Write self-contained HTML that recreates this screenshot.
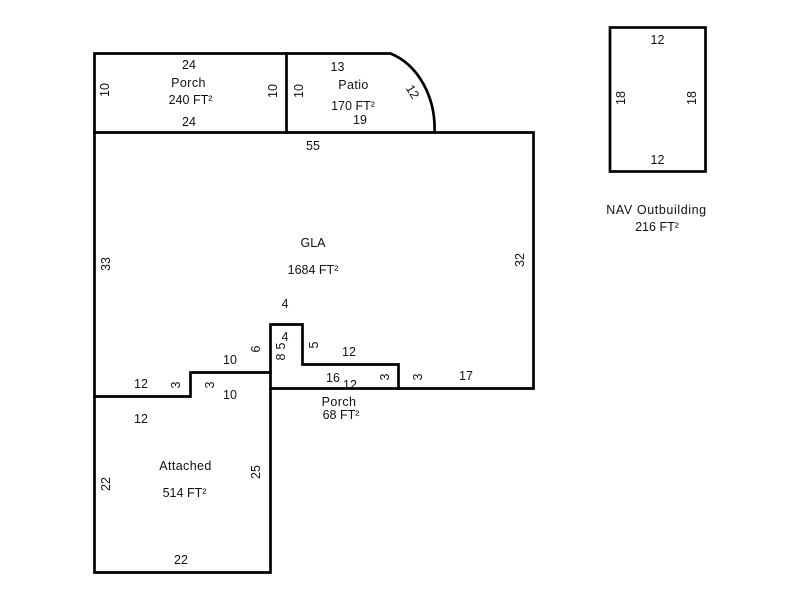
<!DOCTYPE html>
<html><head><meta charset="utf-8"><style>
html,body{margin:0;padding:0;background:#fff}
svg{display:block}
text{font-family:"Liberation Sans",Arial,sans-serif;font-size:12.5px;fill:#111;text-anchor:middle}
.w{letter-spacing:.4px}
.n{letter-spacing:.6px}
</style></head><body>
<svg width="800" height="600" viewBox="0 0 800 600" xmlns="http://www.w3.org/2000/svg">
<text x="350" y="389">12</text>
<rect x="300" y="389" width="100" height="8" fill="#fff"/>
<g fill="none" stroke="#000" stroke-width="2.7" stroke-linecap="square" stroke-linejoin="miter">
<path d="M94.5 132.5V53.5H286.5V132.5"/>
<path d="M286.5 53.5H390.5A64 79 0 0 1 434.5 132.5"/>
<path d="M94.5 132.5H533.5V388.5H270.5"/>
<path d="M94.5 132.5V572.5H270.5V324.5H302.5V364.5H398.5V388.5"/>
<path d="M94.5 396.5H190.5V372.5H270.5"/>
<rect x="610" y="27.5" width="95.5" height="144"/>
</g>
<text x="189" y="69">24</text>
<text class="w" x="188.5" y="87">Porch</text>
<text x="190.5" y="104">240 FT²</text>
<text x="189" y="126">24</text>
<text transform="translate(109,90) rotate(-90)">10</text>
<text transform="translate(277,91) rotate(-90)">10</text>
<text transform="translate(303,91) rotate(-90)">10</text>
<text x="337.5" y="71">13</text>
<text class="w" x="353.5" y="89">Patio</text>
<text x="353" y="110">170 FT²</text>
<text x="360" y="124">19</text>
<text transform="translate(409,94) rotate(58)">12</text>
<text x="313" y="150">55</text>
<text x="313" y="247">GLA</text>
<text x="313" y="274">1684 FT²</text>
<text transform="translate(110,264) rotate(-90)">33</text>
<text transform="translate(524,260) rotate(-90)">32</text>
<text x="285" y="308">4</text>
<text x="285" y="341">4</text>
<text transform="translate(260,349) rotate(-90)">6</text>
<text transform="translate(285,346) rotate(-90)">5</text>
<text transform="translate(285,357) rotate(-90)">8</text>
<text transform="translate(318,345) rotate(-90)">5</text>
<text x="349" y="356">12</text>
<text x="230" y="364">10</text>
<text x="141" y="388">12</text>
<text transform="translate(180,385) rotate(-90)">3</text>
<text transform="translate(214,385) rotate(-90)">3</text>
<text x="230" y="399">10</text>
<text x="141" y="423">12</text>
<text x="333" y="382">16</text>
<text transform="translate(389,377) rotate(-90)">3</text>
<text transform="translate(422,377) rotate(-90)">3</text>
<text x="466" y="380">17</text>
<text class="w" x="339" y="406">Porch</text>
<text x="341" y="419">68 FT²</text>
<text class="w" x="185.5" y="470">Attached</text>
<text x="184.5" y="497">514 FT²</text>
<text transform="translate(110,484) rotate(-90)">22</text>
<text transform="translate(260,472) rotate(-90)">25</text>
<text x="181" y="564">22</text>
<text x="657.5" y="44">12</text>
<text x="657.5" y="164">12</text>
<text transform="translate(625,98) rotate(-90)">18</text>
<text transform="translate(696,98) rotate(-90)">18</text>
<text class="n" x="656.5" y="214">NAV Outbuilding</text>
<text x="657" y="231">216 FT²</text>
</svg>
</body></html>
